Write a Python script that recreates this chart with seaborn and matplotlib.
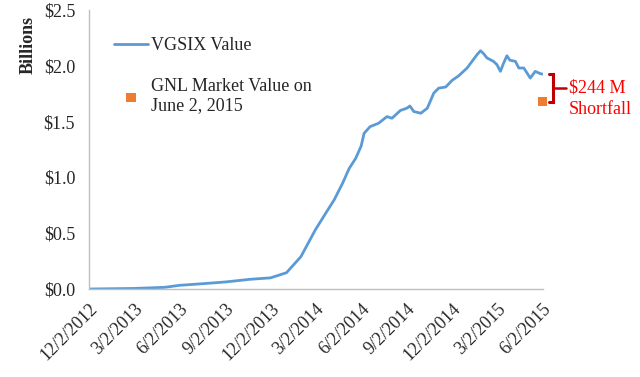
import pandas as pd
import seaborn as sns
import matplotlib.pyplot as plt
import matplotlib.transforms as mtransforms
from matplotlib.ticker import FuncFormatter

# =============================================================================
# Data (billions of dollars)
# =============================================================================
vgsix_dates = ["2012-12-02", "2013-03-02", "2013-05-03", "2013-06-02",
               "2013-07-20", "2013-09-02", "2013-10-22", "2013-12-02",
               "2014-01-03", "2014-02-01", "2014-03-02", "2014-03-23",
               "2014-04-09", "2014-04-26", "2014-05-09", "2014-05-22",
               "2014-06-02", "2014-06-08", "2014-06-20", "2014-07-07",
               "2014-07-24", "2014-08-03", "2014-08-20", "2014-09-02",
               "2014-09-08", "2014-09-16", "2014-09-30", "2014-10-13",
               "2014-10-26", "2014-11-05", "2014-11-19", "2014-12-02",
               "2014-12-15", "2015-01-01", "2015-01-11", "2015-01-21",
               "2015-01-28", "2015-02-03", "2015-02-10", "2015-02-23",
               "2015-03-02", "2015-03-09", "2015-03-15", "2015-03-22",
               "2015-03-28", "2015-04-08", "2015-04-15", "2015-04-25",
               "2015-05-08", "2015-05-18", "2015-05-28", "2015-06-02"]
vgsix_values = [0.000, 0.005, 0.015, 0.033,
                0.048, 0.063, 0.087, 0.100,
                0.146, 0.290, 0.530, 0.680,
                0.800, 0.950, 1.080, 1.170,
                1.280, 1.395, 1.455, 1.485,
                1.545, 1.530, 1.600, 1.620,
                1.640, 1.590, 1.575, 1.620,
                1.755, 1.800, 1.810, 1.870,
                1.910, 1.980, 2.040, 2.100,
                2.135, 2.110, 2.070, 2.040,
                2.010, 1.950, 2.020, 2.090,
                2.050, 2.040, 1.980, 1.980,
                1.890, 1.950, 1.930, 1.925]

gnl_date = ["2015-06-02"]
gnl_value = [1.68]

tick_dates = ["2012-12-02", "2013-03-02", "2013-06-02", "2013-09-02",
              "2013-12-02", "2014-03-02", "2014-06-02", "2014-09-02",
              "2014-12-02", "2015-03-02", "2015-06-02"]
tick_labels = ["12/2/2012", "3/2/2013", "6/2/2013", "9/2/2013",
               "12/2/2013", "3/2/2014", "6/2/2014", "9/2/2014",
               "12/2/2014", "3/2/2015", "6/2/2015"]

shortfall_lines = ["$244 M", "Shortfall"]

# =============================================================================
# Plot
# =============================================================================
sns.set_style("white")
plt.rcParams['font.family'] = ['Liberation Serif', 'DejaVu Serif']

df = pd.DataFrame({"date": pd.to_datetime(vgsix_dates), "value": vgsix_values})
df_gnl = pd.DataFrame({"date": pd.to_datetime(gnl_date), "value": gnl_value})

fig = plt.figure(figsize=(6.4, 3.77), dpi=100)
ax = fig.add_axes([0.139, 0.2334, 0.709, 0.7401])

sns.lineplot(x="date", y="value", data=df, ax=ax, color="#5B9BD5",
             linewidth=2, label="VGSIX Value")
sns.scatterplot(x="date", y="value", data=df_gnl, ax=ax, color="#ED7D31",
                marker="s", s=45, edgecolor="none",
                label="GNL Market Value on\nJune 2, 2015", clip_on=False)

ax.set_xlim(pd.Timestamp(tick_dates[0]), pd.Timestamp(tick_dates[-1]))
ax.set_ylim(0, 2.5)
ax.set_yticks([0, 0.5, 1.0, 1.5, 2.0, 2.5])
ax.yaxis.set_major_formatter(FuncFormatter(lambda v, p: "${:.1f}".format(v)))
ax.set_xticks(pd.to_datetime(tick_dates))
ax.set_xticklabels(tick_labels, rotation=45, ha="right",
                   rotation_mode="anchor")
ax.tick_params(axis="x", length=5, width=1, color="#BFBFBF",
               direction="out", labelsize=13, pad=3)
ax.tick_params(axis="y", length=0, labelsize=13, pad=10)
ax.set_xlabel("")
ax.set_ylabel("")

for s in ["top", "right"]:
    ax.spines[s].set_visible(False)
for s in ["left", "bottom"]:
    ax.spines[s].set_color("#BFBFBF")
    ax.spines[s].set_linewidth(1)

trans = mtransforms.blended_transform_factory(ax.transAxes, ax.transData)

ax.text(-0.135, 2.19, "Billions", rotation=90, fontsize=13,
        fontweight="bold", ha="center", va="center", transform=trans)

ax.legend(loc="upper left", bbox_to_anchor=(0.035, 0.935), frameon=False,
          fontsize=13, handlelength=1.9, handletextpad=0.15,
          labelspacing=1.3, borderpad=0)

# Shortfall bracket
top = vgsix_values[-1]
bottom = gnl_value[0]
mid = (top + bottom) / 2
bx = 1.022
ax.plot([bx - 0.008, bx, bx, bx - 0.008], [top, top, bottom, bottom],
        color="#C00000", linewidth=2.2, transform=trans, clip_on=False,
        solid_joinstyle="miter")
ax.plot([bx, bx + 0.03], [mid, mid], color="#C00000", linewidth=1.8,
        transform=trans, clip_on=False)
ax.text(bx + 0.035, mid, shortfall_lines[0], color="#FF0000",
        fontsize=13, ha="left", va="center", transform=trans)
ax.text(bx + 0.035, mid, shortfall_lines[1], color="#FF0000",
        fontsize=13, ha="left", va="center",
        transform=trans + mtransforms.ScaledTranslation(
            0, -0.22, fig.dpi_scale_trans))

plt.savefig("out.png", dpi=100)
plt.close()
